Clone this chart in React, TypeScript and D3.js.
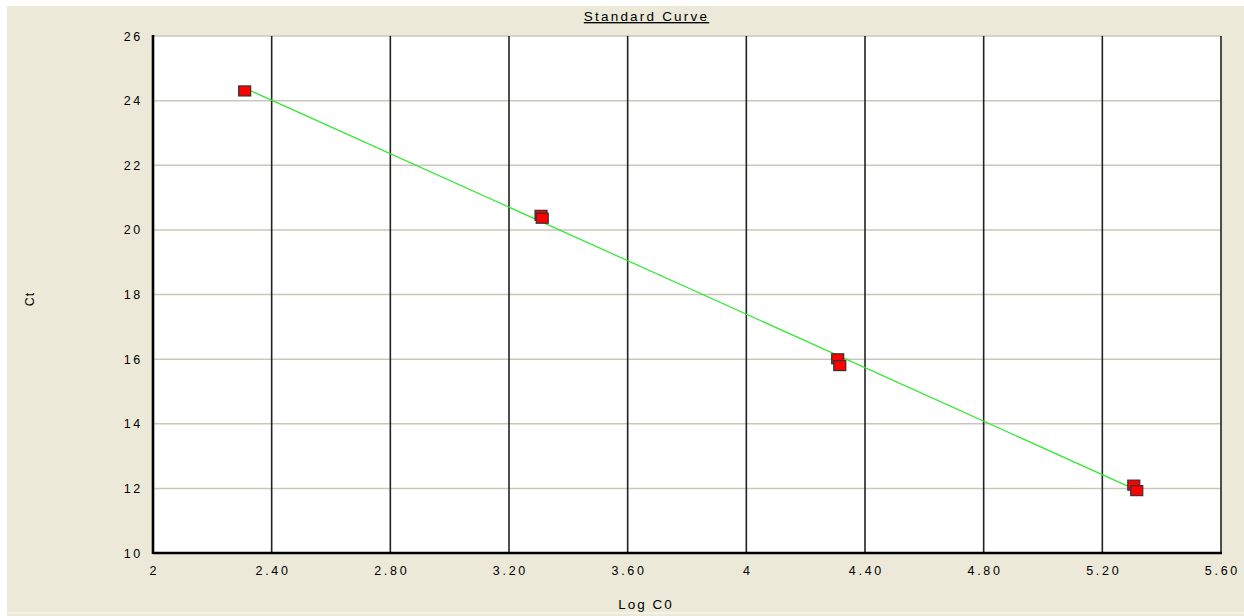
import React from "react";
import * as d3 from "d3";

// Standard curve replicates (Log C0 vs Ct)
const logC0 = [2.309, 3.308, 3.312, 4.308, 4.315, 5.306, 5.316];
const ctValues = [24.3, 20.45, 20.36, 16.01, 15.8, 12.1, 11.93];

// fitted line endpoints
const fitX = [2.304, 5.31];
const fitY = [24.41, 11.97];

const xTickValues = [2, 2.4, 2.8, 3.2, 3.6, 4, 4.4, 4.8, 5.2, 5.6];
const xTickLabels = ["2", "2.40", "2.80", "3.20", "3.60", "4", "4.40", "4.80", "5.20", "5.60"];
const yTickValues = [10, 12, 14, 16, 18, 20, 22, 24, 26];

const W = 1244;
const H = 616;
const font = "'Liberation Sans', Arial, sans-serif";

const App = () => {
  // plot area
  const left = 153;
  const right = 1221;
  const top = 36;
  const bottom = 553;

  const x = d3.scaleLinear().domain([2, 5.6]).range([left, right]);
  const y = d3.scaleLinear().domain([10, 26]).range([bottom, top]);

  const line = d3
    .line<number>()
    .x((d) => x(d))
    .y((d, i) => y(fitY[i]));

  const mw = 12; // marker width
  const mh = 10; // marker height

  return (
    <svg
      width={W}
      height={H}
      style={{ position: "absolute", left: 0, top: 0, display: "block" }}
    >
      <rect x={0} y={0} width={W} height={H} fill="#ffffff" />
      <rect x={7} y={6} width={W - 7} height={H - 6} fill="#ece9d8" />
      <line x1={7} x2={W} y1={613} y2={613} stroke="#f6f4ec" strokeWidth={1.5} />

      {/* plot background */}
      <rect x={left} y={top} width={right - left} height={bottom - top} fill="#ffffff" />

      {/* horizontal grid */}
      {yTickValues.map((t) => (
        <line
          key={"h" + t}
          x1={left}
          x2={right}
          y1={y(t)}
          y2={y(t)}
          stroke="#c9c7bb"
          strokeWidth={1.5}
        />
      ))}

      {/* vertical grid */}
      {xTickValues.slice(1).map((t) => (
        <line
          key={"v" + t}
          x1={x(t)}
          x2={x(t)}
          y1={top}
          y2={bottom}
          stroke="#222"
          strokeWidth={1.6}
        />
      ))}

      {/* axes */}
      <line x1={left} x2={left} y1={top - 1} y2={bottom + 1} stroke="#000" strokeWidth={2.6} />
      <line x1={left} x2={right + 1} y1={bottom} y2={bottom} stroke="#000" strokeWidth={2.4} />

      {/* y tick labels */}
      {yTickValues.map((t) => (
        <text
          key={"yl" + t}
          x={143}
          y={y(t)}
          dy="0.36em"
          textAnchor="end"
          fontFamily={font}
          fontSize={12.5}
          letterSpacing={2.7}
          fill="#000"
        >
          {t}
        </text>
      ))}

      {/* x tick labels */}
      {xTickValues.map((t, i) => (
        <text
          key={"xl" + t}
          x={x(t) + 1.4}
          y={574.5}
          textAnchor="middle"
          fontFamily={font}
          fontSize={12.5}
          letterSpacing={2.7}
          fill="#000"
        >
          {xTickLabels[i]}
        </text>
      ))}

      {/* fit line */}
      <path d={line(fitX) || ""} fill="none" stroke="#2ee82e" strokeWidth={1.2} />

      {/* data markers */}
      {logC0.map((v, i) => (
        <rect
          key={"p" + i}
          x={x(v) - mw / 2}
          y={y(ctValues[i]) - mh / 2}
          width={mw}
          height={mh}
          fill="#ff0000"
          stroke="#333"
          strokeWidth={1.2}
        />
      ))}

      {/* title */}
      <text
        x={646.5}
        y={21}
        textAnchor="middle"
        fontFamily={font}
        fontSize={13.5}
        letterSpacing={2.2}
        fill="#000"
        textDecoration="underline"
      >
        Standard Curve
      </text>

      {/* axis titles */}
      <text
        x={646}
        y={608.5}
        textAnchor="middle"
        fontFamily={font}
        fontSize={13.5}
        letterSpacing={2}
        fill="#000"
      >
        Log C0
      </text>
      <text
        transform="translate(34,299) rotate(-90)"
        textAnchor="middle"
        fontFamily={font}
        fontSize={12.5}
        letterSpacing={1}
        fill="#000"
      >
        Ct
      </text>
    </svg>
  );
};

export default App;
